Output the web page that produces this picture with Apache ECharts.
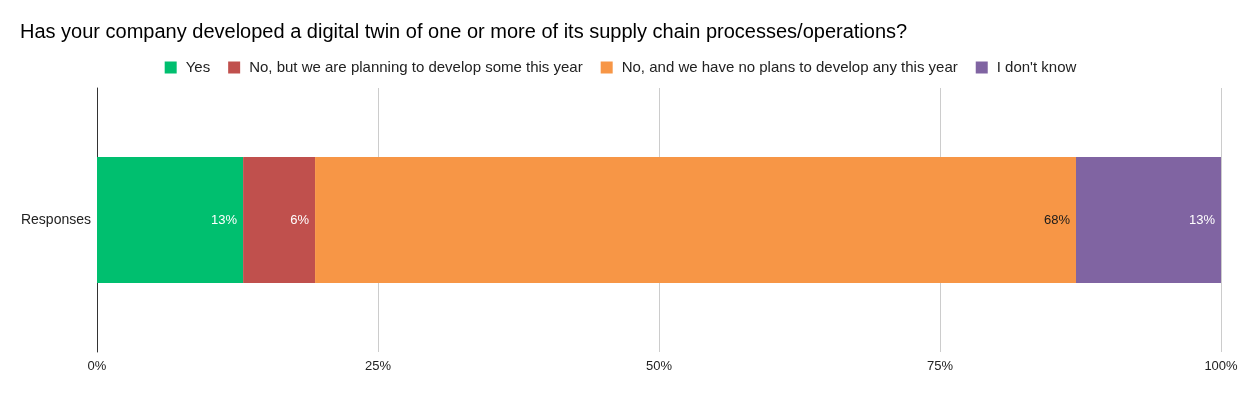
<!DOCTYPE html>
<html><head><meta charset="utf-8">
<script src="https://cdn.jsdelivr.net/npm/echarts@6/dist/echarts.min.js"></script>
<style>html,body{margin:0;padding:0;background:#fff}#c{width:1241px;height:394px}</style>
</head><body><div id="c"></div>
<script>
const title = 'Has your company developed a digital twin of one or more of its supply chain processes/operations?';
const categories = ['Responses'];
const seriesNames = ['Yes', 'No, but we are planning to develop some this year', 'No, and we have no plans to develop any this year', "I don't know"];
const seriesValues = [[13.0], [6.4], [67.7], [12.9]];
const seriesLabels = [['13%'], ['6%'], ['68%'], ['13%']];
const colors = ['#00bf6f', '#c0504d', '#f79646', '#8064a2'];
const labelColors = ['#ffffff', '#ffffff', '#1a1a1a', '#ffffff'];
const tickLabels = ['0%', '25%', '50%', '75%', '100%'];

const FONT = '"Liberation Sans", Arial, sans-serif';
const chart = echarts.init(document.getElementById('c'));
chart.setOption({
  animation: false,
  title: { text: title, left: 15, top: 17, textStyle: { fontFamily: FONT, fontSize: 20, fontWeight: 'normal', color: '#000' } },
  legend: {
    top: 55, left: 'center', itemWidth: 12, itemHeight: 12, itemGap: 18, icon: 'rect',
    textStyle: { fontFamily: FONT, fontSize: 15, color: '#222', padding: [0, 0, 0, 4] },
    data: seriesNames
  },
  grid: { left: 97, right: 20, top: 88, bottom: 42, containLabel: false },
  xAxis: {
    type: 'value', min: 0, max: 100, interval: 25,
    axisLine: { show: false }, axisTick: { show: false },
    splitLine: { lineStyle: { color: '#cccccc' } },
    axisLabel: { formatter: v => tickLabels[v / 25], fontFamily: FONT, fontSize: 13, color: '#222', margin: 8 }
  },
  yAxis: {
    type: 'category', data: categories,
    axisLine: { show: true, lineStyle: { color: '#333', width: 1 } }, axisTick: { show: false },
    axisLabel: { fontFamily: FONT, fontSize: 14, color: '#222', margin: 6 }
  },
  series: seriesNames.map((n, i) => ({
    name: n, type: 'bar', stack: 'total', barWidth: 126,
    itemStyle: { color: colors[i] },
    data: seriesValues[i],
    label: {
      show: true, position: 'insideRight', distance: 6,
      formatter: p => seriesLabels[i][p.dataIndex],
      color: labelColors[i], fontFamily: FONT, fontSize: 13
    }
  }))
});
</script></body></html>
